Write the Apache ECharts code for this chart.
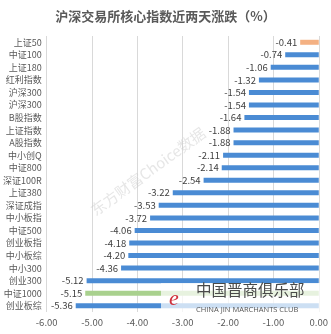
<!DOCTYPE html>
<html><head><meta charset="utf-8">
<script src="https://cdn.jsdelivr.net/npm/echarts@6/dist/echarts.min.js"></script>
<style>html,body{margin:0;padding:0;background:#fff}#c{width:331px;height:334px}</style>
</head><body><div id="c"></div>
<script>
const categories = ['上证50','中证100','上证180','红利指数','沪深300','沪深300','B股指数','上证指数','A股指数','中小创Q','中证800','深证100R','上证380','深证成指','中小板指','中证500','创业板指','中小板综','中小300','创业300','中证1000','创业板综'];
const values = [-0.41,-0.74,-1.06,-1.32,-1.54,-1.54,-1.64,-1.88,-1.88,-2.11,-2.14,-2.54,-3.22,-3.53,-3.72,-4.06,-4.18,-4.20,-4.36,-5.12,-5.15,-5.36];
const xTicks = {min:-6, max:0, interval:1};
const titleText = '沪深交易所核心指数近两天涨跌（%）';

const specialColors = {0:'#f4b183', 20:'#a9d18e'};
const font = '"Noto Sans CJK SC","Microsoft YaHei",sans-serif';
const chart = echarts.init(document.getElementById('c'));
chart.setOption({
  animation:false,
  title:{text:titleText,left:'center',top:5,textStyle:{fontSize:13,fontWeight:'bold',color:'#595959',fontFamily:font}},
  grid:{left:45,right:11,top:36,bottom:22,containLabel:false},
  xAxis:{type:'value',min:xTicks.min,max:xTicks.max,interval:xTicks.interval,
    axisLine:{show:false},axisTick:{show:false},
    axisLabel:{formatter:v=>v.toFixed(2),fontSize:9.5,color:'#595959',fontFamily:font,margin:6},
    splitLine:{lineStyle:{color:'#d9d9d9',width:1}}},
  yAxis:{type:'category',data:categories,inverse:true,
    axisLine:{show:false},axisTick:{show:false},
    axisLabel:{fontSize:9,color:'#595959',fontFamily:font,margin:5}},
  series:[{type:'bar',data:values,barWidth:5,
    itemStyle:{color:p=>specialColors[p.dataIndex]||'#4a8bd4'},
    label:{show:true,position:'left',distance:3,formatter:p=>p.value.toFixed(2),fontSize:9.5,color:'#404040',fontFamily:font}}],
  graphic:[
    {type:'text',left:88,top:125,rotation:Math.PI*0.2,z:10,
      style:{text:'东方财富Choice数据',fontSize:15,fill:'rgba(200,200,200,0.45)',fontFamily:font}},
    {type:'rect',shape:{x:161,y:283,width:170,height:36},z:20,style:{fill:'rgba(255,255,255,0.72)'}},
    {type:'text',x:196,y:282,z:21,style:{text:'中国晋商俱乐部',fontSize:15.5,fill:'#4a4a4a',fontFamily:font}},
    {type:'text',x:196,y:306,z:21,style:{text:'CHINA JIN MARCHANTS CLUB',fontSize:7.5,fill:'#555',fontFamily:'"Open Sans",sans-serif'}},
    {type:'text',x:169,y:288,z:21,style:{text:'e',fontSize:22,fontStyle:'italic',fill:'#d0303a',fontFamily:'serif'}}
  ]
});
</script></body></html>
